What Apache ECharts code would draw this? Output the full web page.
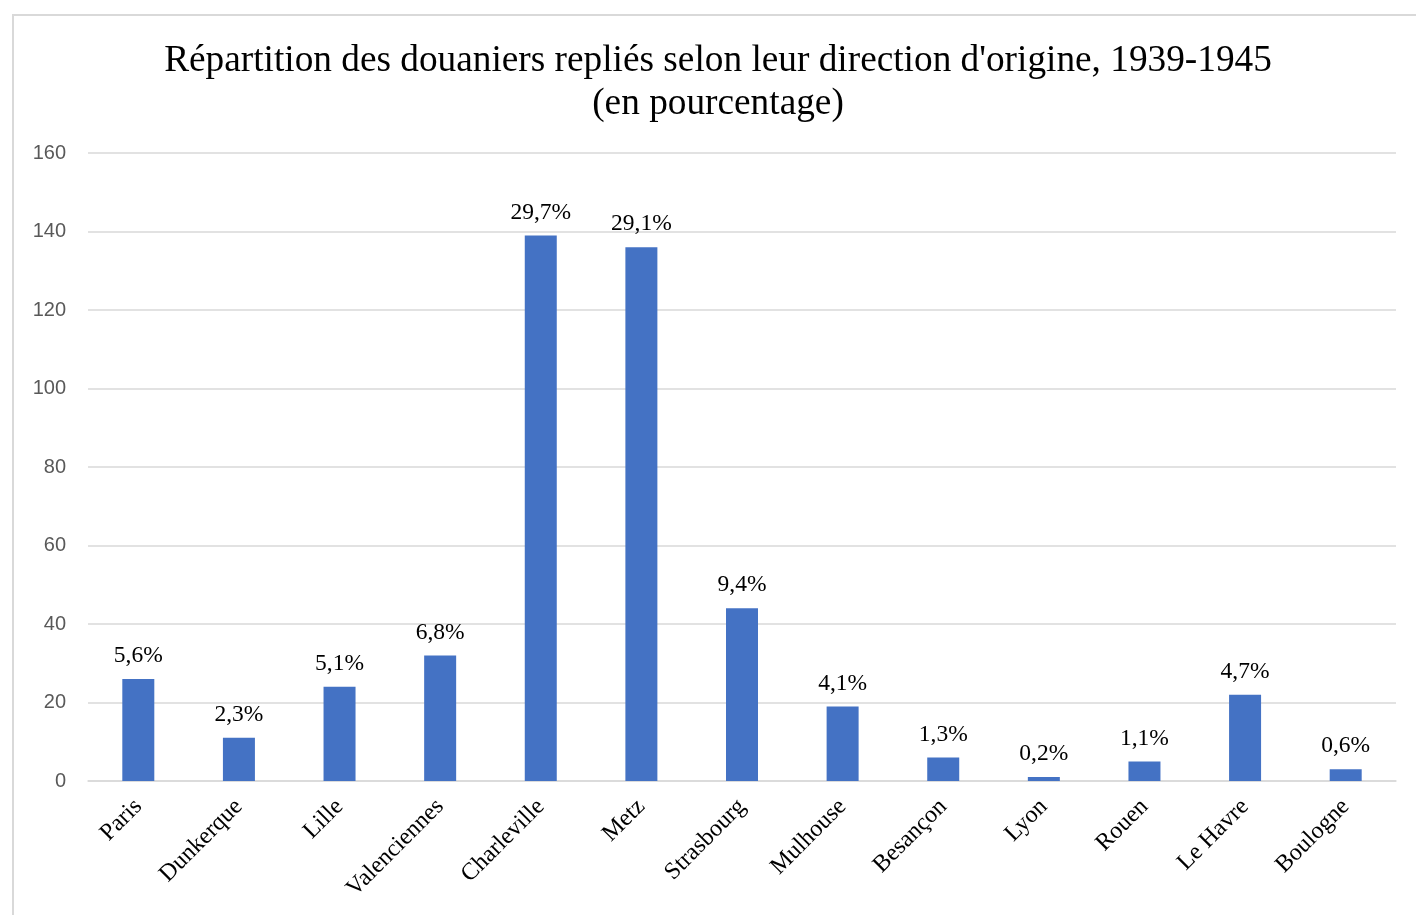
<!DOCTYPE html>
<html>
<head>
<meta charset="utf-8">
<script src="https://cdn.jsdelivr.net/npm/echarts@6/dist/echarts.min.js"></script>
<style>
  html, body { margin: 0; padding: 0; background: #fff; overflow: hidden; }
  #frame { position: absolute; left: 12px; top: 14px; width: 1420px; height: 920px; border: 2px solid #d9d9d9; box-sizing: border-box; }
  #barChart { position: absolute; left: 0; top: 0; width: 1416px; height: 915px; }
</style>
</head>
<body>
<div id="frame"></div>
<div id="barChart"></div>
<script>
// directions d'origine
const categories = ['Paris', 'Dunkerque', 'Lille', 'Valenciennes', 'Charleville', 'Metz', 'Strasbourg',
  'Mulhouse', 'Besançon', 'Lyon', 'Rouen', 'Le Havre', 'Boulogne'];
// effectifs
const counts = [26, 11, 24, 32, 139, 136, 44, 19, 6, 1, 5, 22, 3];
// étiquettes de pourcentage
const pctLabels = ['5,6%', '2,3%', '5,1%', '6,8%', '29,7%', '29,1%', '9,4%', '4,1%', '1,3%', '0,2%', '1,1%', '4,7%', '0,6%'];

const chart = echarts.init(document.getElementById('barChart'));
chart.setOption({
  animation: false,
  title: {
    text: "Répartition des douaniers repliés selon leur direction d'origine, 1939-1945\n(en pourcentage)",
    left: 713,
    textAlign: 'center',
    top: 35,
    textStyle: {
      fontFamily: 'Liberation Serif',
      fontSize: 37.3,
      fontWeight: 'normal',
      color: '#000',
      lineHeight: 43
    }
  },
  grid: { left: 88, right: 20, top: 153, bottom: 134 },
  xAxis: {
    type: 'category',
    data: categories,
    axisLine: { show: true, lineStyle: { color: '#d9d9d9', width: 1.5 } },
    axisTick: { show: false },
    axisLabel: {
      rotate: 45,
      margin: 22,
      fontFamily: 'Liberation Serif',
      fontSize: 24,
      color: '#000'
    }
  },
  yAxis: {
    type: 'value',
    min: 0,
    max: 160,
    interval: 20,
    axisLine: { show: false },
    axisTick: { show: false },
    splitLine: { lineStyle: { color: '#d9d9d9', width: 1.5 } },
    axisLabel: {
      margin: 22,
      fontFamily: 'Liberation Sans',
      fontSize: 20,
      color: '#595959'
    }
  },
  series: [{
    type: 'bar',
    data: counts,
    barWidth: 32,
    itemStyle: { color: '#4472c4' },
    label: {
      show: true,
      position: 'top',
      distance: 11,
      fontFamily: 'Liberation Serif',
      fontSize: 23.5,
      color: '#000',
      formatter: p => pctLabels[p.dataIndex]
    }
  }]
});
</script>
</body>
</html>
